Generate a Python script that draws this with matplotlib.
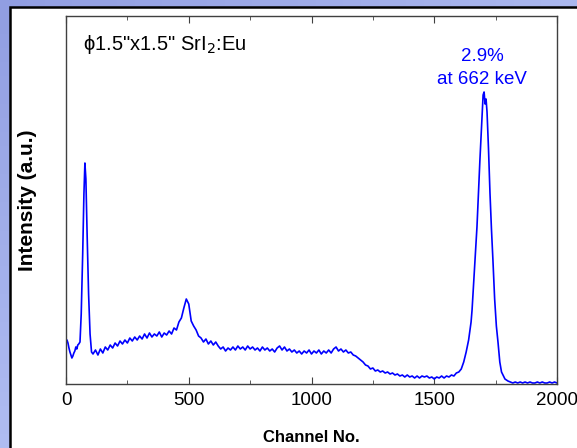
import numpy as np
import matplotlib
matplotlib.use("Agg")
import matplotlib.pyplot as plt
from matplotlib.patches import Rectangle

plt.rcParams["font.family"] = ["Liberation Sans", "DejaVu Sans"]

# --- data (arbitrary intensity units) -------------------------------------
# low-energy x-ray peak
ch_low = [0, 4, 8, 12, 16, 20, 24, 28, 32, 36, 40, 44, 48, 52, 57, 62, 68, 73, 77,
          81, 86, 92, 98, 104]
cnt_low = [40, 44, 41, 36, 32, 29, 26, 28, 31, 33, 37, 35, 39, 40, 42, 70, 130, 190,
           221, 205, 150, 90, 50, 32]

# Compton continuum, every 10 channels from 110 to 1630
ch_mid = list(range(110, 1640, 10))
cnt_mid = [30, 34, 29, 35, 31, 37, 34, 39, 36,
           41, 38, 43, 40, 44, 41, 46, 43, 47, 44,
           48, 45, 50, 46, 51, 47, 50, 48, 52, 47,
           51, 49, 53, 50, 56, 54, 62, 66, 76, 85,
           80, 63, 58, 54, 48, 46, 42, 45, 40, 43,
           39, 42, 38, 35, 37, 33, 36, 34, 37, 34,
           38, 35, 37, 34, 38, 35, 37, 34, 36, 33,
           37, 34, 36, 33, 35, 32, 36, 38, 34, 37,
           33, 35, 32, 34, 31, 33, 30, 33, 31, 34,
           30, 33, 31, 34, 30, 33, 31, 34, 31, 35,
           37, 33, 35, 32, 34, 31, 32, 29, 28, 26,
           24, 22, 19, 18, 15, 16, 13, 14, 12, 13,
           11, 12, 10, 11, 9, 10, 8, 9, 7, 9,
           7, 8, 6, 8, 6, 8, 7, 8, 6, 7,
           5, 7, 6, 8, 6, 8, 7, 9, 8, 11,
           12, 15, 22, 32]

# 662 keV photopeak
ch_peak = [1640, 1650, 1654, 1664, 1674, 1686, 1694, 1699, 1703, 1707, 1711, 1715,
           1721, 1727, 1733, 1739, 1746, 1753, 1760, 1767, 1774, 1780, 1788]
cnt_peak = [44, 62, 74, 115, 157, 224, 265, 289, 292, 280, 285, 272,
            235, 191, 155, 124, 85, 58, 41, 22, 12, 9, 5]

# tail above the peak
ch_tail = list(range(1800, 2010, 10))
cnt_tail = [3, 2, 1, 2, 1, 2, 1, 2, 1, 2, 1, 1, 2, 1, 2, 1, 1, 2, 1, 2, 1]

xticks = [0, 500, 1000, 1500, 2000]

channel = ch_low + ch_mid + ch_peak + ch_tail
counts = cnt_low + cnt_mid + cnt_peak + cnt_tail

# --- figure with blue gradient frame ---------------------------------------
fig = plt.figure(figsize=(5.77, 4.48), dpi=100)
bg = fig.add_axes([0, 0, 1, 1])
gx, gy = np.meshgrid(np.linspace(0, 1, 64), np.linspace(0, 1, 64))
c0 = np.array([145, 158, 226]) / 255
grad = c0 + (0.10 * gx + 0.12 * gy)[..., None] * np.array([1, 1, 0.5])
bg.imshow(np.clip(grad, 0, 1), extent=[0, 1, 0, 1], aspect="auto", origin="upper")
bg.add_patch(Rectangle((10 / 577, -0.1), 1.2, (448 - 7) / 448 + 0.1,
                       facecolor="white", edgecolor="black", lw=1.8,
                       transform=bg.transAxes))
bg.set_xlim(0, 1)
bg.set_ylim(0, 1)
bg.axis("off")

ax = fig.add_axes([66 / 577, 64 / 448, 491 / 577, 368 / 448])
ax.plot(channel, counts, color="#0000ff", lw=1.2)
ax.set_xlim(0, 2000)
ax.set_ylim(0, 368)
ax.set_xticks(xticks)
ax.set_xticks(range(250, 2000, 500), minor=True)
ax.set_yticks([])
ax.tick_params(axis="x", which="both", direction="in", top=True, labelsize=13.5,
               color="#404040", pad=6)
ax.tick_params(axis="x", which="major", length=5)
ax.tick_params(axis="x", which="minor", length=3)
for s in ax.spines.values():
    s.set_color("#404040")
    s.set_linewidth(1.0)

ax.set_xlabel("Channel No.", fontsize=12, fontweight="bold", labelpad=15)
ax.set_ylabel("Intensity (a.u.)", fontsize=15, fontweight="bold", labelpad=21)

ax.text(0.035, 0.955, "\u03d51.5\"x1.5\" SrI$_2$:Eu", transform=ax.transAxes,
        fontsize=14.5, va="top", ha="left")
ax.text(1695, 316, "2.9%\nat 662 keV", color="#0000ff", fontsize=13.5,
        ha="center", va="center", linespacing=1.4)

fig.savefig("out.png", dpi=100)
